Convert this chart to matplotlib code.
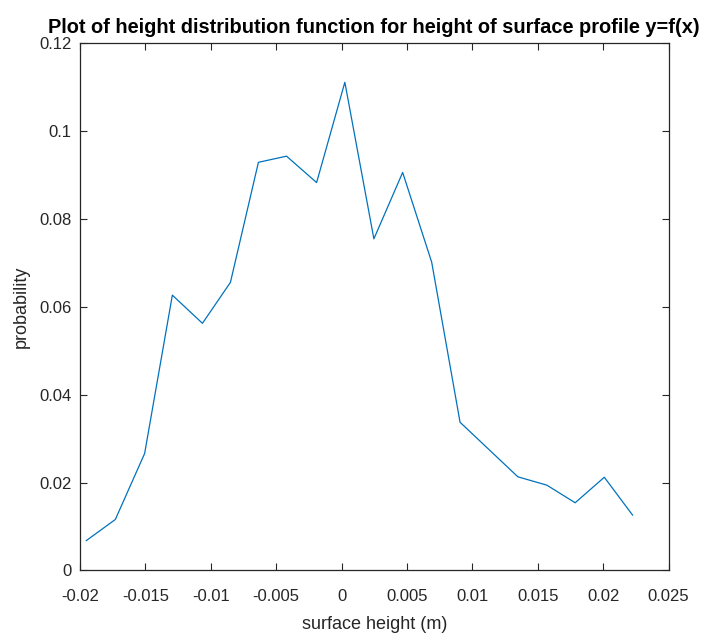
import matplotlib
matplotlib.use("Agg")
import matplotlib.pyplot as plt

# surface height (m) and probability
height = [-0.01952, -0.0173, -0.01506, -0.01294, -0.01064, -0.0085, -0.00636,
          -0.00421, -0.00191, 0.00025, 0.00247, 0.00467, 0.00689, 0.00906,
          0.01127, 0.01348, 0.0157, 0.01786, 0.02009, 0.02225]
prob = [0.0068, 0.0116, 0.0266, 0.0626, 0.0562, 0.0655, 0.0928,
        0.0942, 0.0882, 0.1110, 0.0754, 0.0905, 0.0701, 0.0337,
        0.0275, 0.0213, 0.0194, 0.0154, 0.0212, 0.0126]

xticks = [-0.02, -0.015, -0.01, -0.005, 0, 0.005, 0.01, 0.015, 0.02, 0.025]
xticklabels = ['-0.02', '-0.015', '-0.01', '-0.005', '0', '0.005', '0.01', '0.015', '0.02', '0.025']
yticks = [0, 0.02, 0.04, 0.06, 0.08, 0.1, 0.12]
yticklabels = ['0', '0.02', '0.04', '0.06', '0.08', '0.1', '0.12']

plt.rcParams['font.family'] = ['Liberation Sans', 'DejaVu Sans']
grey = '#262626'

fig = plt.figure(figsize=(7.19, 6.39), dpi=100)
ax = fig.add_axes([0.1113, 0.1072, 0.8185, 0.826])

ax.plot(height, prob, color='#0072BD', linewidth=0.9)

ax.set_xlim(-0.02, 0.025)
ax.set_ylim(0, 0.12)
ax.set_xticks(xticks)
ax.set_xticklabels(xticklabels)
ax.set_yticks(yticks)
ax.set_yticklabels(yticklabels)
ax.tick_params(direction='in', top=True, right=True, length=5, width=0.8,
               colors=grey, labelsize=12)
ax.tick_params(axis='x', pad=13)
ax.tick_params(axis='y', pad=6)
for s in ax.spines.values():
    s.set_color(grey)
    s.set_linewidth(0.9)

ax.set_title('Plot of height distribution function for height of surface profile y=f(x)',
             fontsize=14.4, fontweight='bold', color='black', pad=7)
ax.set_xlabel('surface height (m)', fontsize=13, color=grey, labelpad=9)
ax.set_ylabel('probability', fontsize=13, color=grey, labelpad=7)

fig.savefig('out.png', dpi=100)
